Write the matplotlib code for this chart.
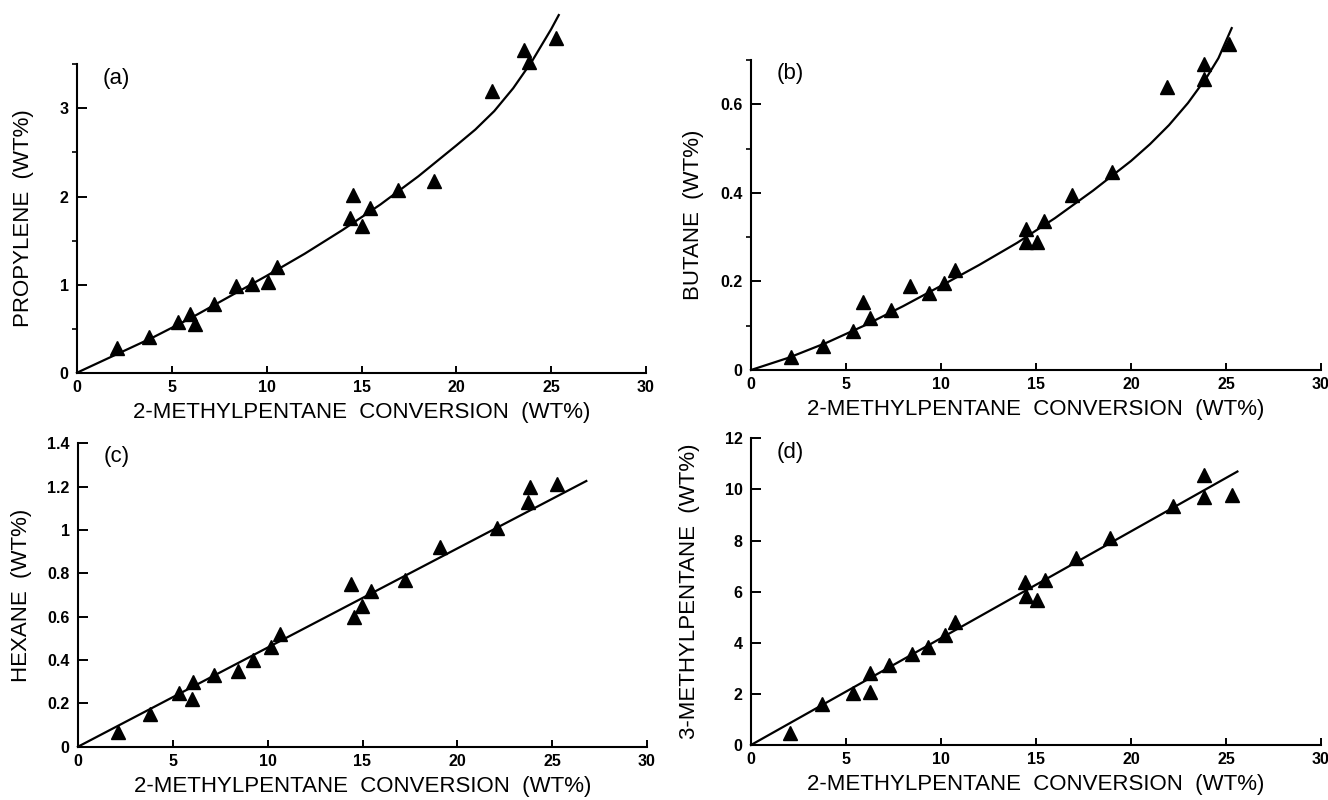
import matplotlib
matplotlib.use("Agg")
import matplotlib.pyplot as plt
from matplotlib.ticker import MultipleLocator, FormatStrFormatter

plt.rcParams['font.family'] = ['Liberation Sans', 'DejaVu Sans']

# --- (a) propylene ---
conv_a = [2.12, 3.81, 5.33, 5.95, 6.21, 7.21, 8.37, 9.25, 10.07, 10.54,
          14.40, 14.54, 15.02, 15.46, 16.91, 18.83, 21.88, 23.58, 23.81, 25.28]
propylene = [0.28, 0.40, 0.57, 0.67, 0.55, 0.78, 0.98, 1.01, 1.03, 1.20,
             1.76, 2.02, 1.67, 1.87, 2.07, 2.18, 3.20, 3.66, 3.53, 3.80]
# fitted curve
fit_a_x = [0, 2, 4, 6, 8, 10, 12, 14, 16, 18, 20, 21, 22, 23, 24, 25, 25.4]
fit_a_y = [0, 0.20, 0.40, 0.62, 0.86, 1.10, 1.35, 1.62, 1.91, 2.23, 2.58,
           2.76, 2.97, 3.23, 3.54, 3.90, 4.06]

# --- (b) butane ---
conv_b = [2.10, 3.81, 5.38, 5.91, 6.26, 7.35, 8.37, 9.39, 10.18, 10.74,
          14.46, 14.46, 15.07, 15.42, 16.88, 19.02, 21.91, 23.86, 23.86, 25.16]
butane = [0.029, 0.054, 0.088, 0.154, 0.118, 0.135, 0.190, 0.175, 0.197, 0.226,
          0.318, 0.290, 0.290, 0.337, 0.395, 0.448, 0.638, 0.692, 0.657, 0.737]
fit_b_x = [0, 2, 4, 6, 8, 10, 12, 14, 16, 18, 20, 21, 22, 23, 24, 24.6, 25.3]
fit_b_y = [0, 0.028, 0.062, 0.101, 0.144, 0.19, 0.237, 0.287, 0.343, 0.405,
           0.472, 0.510, 0.553, 0.603, 0.662, 0.704, 0.772]

# --- (c) hexane ---
conv_c = [2.13, 3.81, 5.34, 6.08, 6.03, 7.17, 8.45, 9.24, 10.18, 10.67,
          14.42, 14.53, 14.98, 15.43, 17.22, 19.06, 22.08, 23.72, 23.83, 25.25]
hexane = [0.07, 0.15, 0.25, 0.30, 0.22, 0.33, 0.35, 0.40, 0.46, 0.52,
          0.75, 0.60, 0.65, 0.72, 0.77, 0.92, 1.01, 1.13, 1.20, 1.21]
fit_c_x = [0, 26.8]
fit_c_y = [0, 1.226]

# --- (d) 3-methylpentane ---
conv_d = [2.05, 3.73, 5.35, 6.25, 6.25, 7.27, 8.45, 9.32, 10.19, 10.75,
          14.41, 14.45, 15.06, 15.46, 17.13, 18.89, 22.20, 23.82, 23.82, 25.32]
methylpentane3 = [0.46, 1.59, 2.02, 2.80, 2.09, 3.13, 3.56, 3.85, 4.30, 4.83,
                  6.39, 5.83, 5.67, 6.46, 7.30, 8.09, 9.35, 10.56, 9.72, 9.78]
fit_d_x = [0, 25.6]
fit_d_y = [0, 10.7]

W, H = 1328, 800
fig = plt.figure(figsize=(W / 100, H / 100), dpi=100)


def px_box(left, right, bottom, top):
    # pixel box (image coords) -> figure fraction
    return [left / W, 1 - bottom / H, (right - left) / W, (bottom - top) / H]


panels = [
    dict(box=px_box(77, 646, 372.7, 64.4), x=conv_a, y=propylene, fx=fit_a_x, fy=fit_a_y,
         ylabel="PROPYLENE  (WT%)", tag="(a)", ymax=3.5, major=1, minor=0.5, ylab_px=55),
    dict(box=px_box(751, 1321, 370, 60), x=conv_b, y=butane, fx=fit_b_x, fy=fit_b_y,
         ylabel="BUTANE  (WT%)", tag="(b)", ymax=0.7, major=0.2, minor=0.1, ylab_px=60),
    dict(box=px_box(78, 647, 746.7, 443.3), x=conv_c, y=hexane, fx=fit_c_x, fy=fit_c_y,
         ylabel="HEXANE  (WT%)", tag="(c)", ymax=1.4, major=0.2, minor=None, ylab_px=58),
    dict(box=px_box(751, 1321, 745, 438.3), x=conv_d, y=methylpentane3, fx=fit_d_x, fy=fit_d_y,
         ylabel="3-METHYLPENTANE  (WT%)", tag="(d)", ymax=12, major=2, minor=None, ylab_px=64),
]

for p in panels:
    ax = fig.add_axes(p['box'])
    ax.plot(p['fx'], p['fy'], color='black', lw=1.6, clip_on=False, zorder=3)
    ax.plot(p['x'], p['y'], linestyle='none', marker='^', ms=10, color='black',
            clip_on=False, zorder=4)

    ax.set_xlim(0, 30)
    ax.set_ylim(0, p['ymax'])
    ax.xaxis.set_major_locator(MultipleLocator(5))
    ax.yaxis.set_major_locator(MultipleLocator(p['major']))
    if p['minor']:
        ax.yaxis.set_minor_locator(MultipleLocator(p['minor']))
    ax.yaxis.set_major_formatter(FormatStrFormatter('%g'))

    for side in ['top', 'right']:
        ax.spines[side].set_visible(False)
    for side in ['left', 'bottom']:
        ax.spines[side].set_linewidth(1.5)

    ax.tick_params(axis='both', direction='in', width=1.4, labelsize=11.5)
    ax.tick_params(axis='x', length=5, pad=5)
    ax.tick_params(axis='y', which='major', length=7, pad=6)
    ax.tick_params(axis='y', which='minor', length=3.5, width=1.2)
    for lab in ax.get_xticklabels() + ax.get_yticklabels():
        lab.set_fontweight('bold')

    h_px = p['box'][3] * H
    w_px = p['box'][2] * W
    ax.set_xlabel("2-METHYLPENTANE  CONVERSION  (WT%)", fontsize=16)
    ax.xaxis.set_label_coords(0.5, -29 / h_px)
    ax.set_ylabel(p['ylabel'], fontsize=16)
    ax.yaxis.set_label_coords(-(p['ylab_px'] - 12.5) / w_px, 0.5)

    ax.text(0.045, 0.955, p['tag'], transform=ax.transAxes, fontsize=16,
            ha='left', va='center')

fig.savefig("out.png", dpi=100)
